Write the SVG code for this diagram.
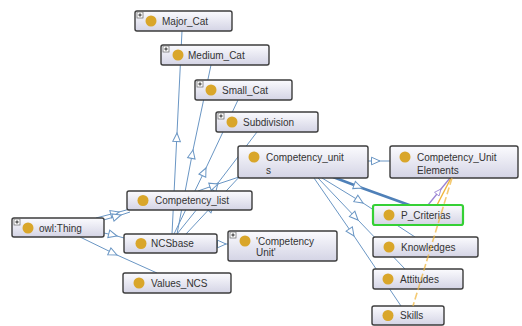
<svg xmlns="http://www.w3.org/2000/svg" width="522" height="326" viewBox="0 0 522 326">
<defs>
<linearGradient id="boxfill" x1="0" y1="0" x2="0" y2="1">
<stop offset="0" stop-color="#fbfbfe"/>
<stop offset="1" stop-color="#d4d4e5"/>
</linearGradient>
<marker id="tri" viewBox="-10 -6 12 12" refX="0" refY="0" markerWidth="12" markerHeight="12" markerUnits="userSpaceOnUse" orient="auto">
<path d="M0,0 L-8.5,-3.8 L-8.5,3.8 Z" fill="#ffffff" stroke="#6a96c4" stroke-width="1"/>
</marker>
<marker id="triP" viewBox="-10 -6 12 12" refX="0" refY="0" markerWidth="10" markerHeight="10" markerUnits="userSpaceOnUse" orient="auto">
<path d="M0,0 L-8,-3.5 L-8,3.5 Z" fill="#ffffff" stroke="#9b84d4" stroke-width="1"/>
</marker>
</defs>
<style>
.box{fill:url(#boxfill);stroke:#3c3c3c;stroke-width:1.4}
.sel{fill:url(#boxfill);stroke:#35d035;stroke-width:2.2}
.dot{fill:#d9a62a}
.lbl{font-family:"Liberation Sans",Arial,sans-serif;font-size:10px;fill:#333}
.e{fill:none;stroke:#6a96c4;stroke-width:1;marker-mid:url(#tri)}
.thick{fill:none;stroke:#4f80b8;stroke-width:2.6;marker-mid:url(#tri)}
.plusbox{fill:#fff;stroke:#666;stroke-width:0.7}
.plus{stroke:#222;stroke-width:0.9}
</style>
<rect width="522" height="326" fill="#ffffff"/>
<g id="connectors">
<polyline class="e" points="172,234 177,133 182,31"/>
<polyline class="e" points="177,234 193,150 211,65"/>
<polyline class="e" points="174,234 206,168 238,100"/>
<polyline class="e" points="177,234 218,183 257,132"/>
<polyline class="e" points="186,234 214,204 242,174"/>
<polyline class="e" points="198,191 218,184 242,176"/>
<polyline class="e" points="96,218 119,212 130,209"/>
<polyline class="e" points="100,221 121,215 130,212"/>
<polyline class="e" points="104,233 117,236 124,238"/>
<polyline class="e" points="80,237 117,255 157,273"/>
<polyline class="e" points="217,244 226,244 228,244"/>
<polyline class="e" points="368,161 380,161 390,161"/>
<polyline class="thick" points="333,177 362,188 412,206"/>
<polyline class="e" points="322,178 363,203 415,237"/>
<polyline class="e" points="318,178 358,220 405,269"/>
<polyline class="e" points="314,178 354,236 401,306"/>
<polyline fill="none" stroke="#9b84d4" stroke-width="1.3" marker-mid="url(#triP)" points="428,205 441,189 450,178"/>
<line x1="451" y1="178" x2="437" y2="205" stroke="#f0b53a" stroke-width="1.4"/>
</g>
<g id="n-major">
<rect class="box" x="135" y="11" width="97" height="20" rx="2"/>
<rect class="plusbox" x="137" y="12" width="6" height="6"/>
<path class="plus" d="M138.3,15 H141.7 M140,13.3 V16.7"/>
<circle class="dot" cx="151" cy="21" r="5.5"/>
<text class="lbl" x="162" y="24.5">Major_Cat</text>
</g>
<g id="n-medium">
<rect class="box" x="161" y="45" width="108" height="20" rx="2"/>
<rect class="plusbox" x="163" y="46" width="6" height="6"/>
<path class="plus" d="M164.3,49 H167.7 M166,47.3 V50.7"/>
<circle class="dot" cx="178" cy="55" r="5.5"/>
<text class="lbl" x="188" y="58.5">Medium_Cat</text>
</g>
<g id="n-small">
<rect class="box" x="195" y="80" width="97" height="20" rx="2"/>
<rect class="plusbox" x="197" y="81" width="6" height="6"/>
<path class="plus" d="M198.3,84 H201.7 M200,82.3 V85.7"/>
<circle class="dot" cx="211" cy="90" r="5.5"/>
<text class="lbl" x="222" y="93.5">Small_Cat</text>
</g>
<g id="n-subdivision">
<rect class="box" x="216" y="112" width="102" height="20" rx="2"/>
<rect class="plusbox" x="218" y="113" width="6" height="6"/>
<path class="plus" d="M219.3,116 H222.7 M221,114.3 V117.7"/>
<circle class="dot" cx="232" cy="122" r="5.5"/>
<text class="lbl" x="243" y="125.5">Subdivision</text>
</g>
<g id="n-competency-units">
<rect class="box" x="238" y="146" width="130" height="32" rx="2"/>
<circle class="dot" cx="254" cy="157" r="5.5"/>
<text class="lbl" x="266" y="160.5">Competency_unit</text>
<text class="lbl" x="266" y="173.5">s</text>
</g>
<g id="n-cue">
<rect class="box" x="390" y="146" width="128" height="32" rx="2"/>
<circle class="dot" cx="405" cy="157" r="5.5"/>
<text class="lbl" x="417" y="160.5">Competency_Unit</text>
<text class="lbl" x="417" y="173.5">Elements</text>
</g>
<g id="n-competency-list">
<rect class="box" x="127" y="191" width="125" height="19" rx="2"/>
<circle class="dot" cx="143" cy="200.5" r="5.5"/>
<text class="lbl" x="155" y="204">Competency_list</text>
</g>
<g id="n-owl-thing">
<rect class="box" x="12" y="218" width="92" height="19" rx="2"/>
<rect class="plusbox" x="14" y="219" width="6" height="6"/>
<path class="plus" d="M15.3,222 H18.7 M17,220.3 V223.7"/>
<circle class="dot" cx="28" cy="228" r="5.5"/>
<text class="lbl" x="39" y="231.5">owl:Thing</text>
</g>
<g id="n-ncsbase">
<rect class="box" x="124" y="234" width="93" height="19" rx="2"/>
<circle class="dot" cx="141" cy="243.5" r="5.5"/>
<text class="lbl" x="151" y="247">NCSbase</text>
</g>
<g id="n-competency-unit">
<rect class="box" x="228" y="231" width="109" height="30" rx="2"/>
<rect class="plusbox" x="230" y="232" width="6" height="6"/>
<path class="plus" d="M231.3,235 H234.7 M233,233.3 V236.7"/>
<circle class="dot" cx="245" cy="241" r="5.5"/>
<text class="lbl" x="256" y="244.5">'Competency</text>
<text class="lbl" x="256" y="256">Unit'</text>
</g>
<g id="n-values-ncs">
<rect class="box" x="123" y="273" width="108" height="20" rx="2"/>
<circle class="dot" cx="139" cy="283" r="5.5"/>
<text class="lbl" x="151" y="286.5">Values_NCS</text>
</g>
<g id="n-p-criterias">
<rect class="sel" x="373" y="205" width="90" height="20" rx="2"/>
<circle class="dot" cx="389" cy="215" r="5.5"/>
<text class="lbl" x="401" y="218.5">P_Criterias</text>
</g>
<g id="n-knowledges">
<rect class="box" x="373" y="237" width="105" height="20" rx="2"/>
<circle class="dot" cx="389" cy="247" r="5.5"/>
<text class="lbl" x="401" y="250.5">Knowledges</text>
</g>
<g id="n-attitudes">
<rect class="box" x="373" y="269" width="90" height="20" rx="2"/>
<circle class="dot" cx="388" cy="279" r="5.5"/>
<text class="lbl" x="400" y="282.5">Attitudes</text>
</g>
<g id="n-skills">
<rect class="box" x="372" y="306" width="72" height="19" rx="2"/>
<circle class="dot" cx="388" cy="315.5" r="5.5"/>
<text class="lbl" x="400" y="319">Skills</text>
</g>
<g id="connectors-over">
<line x1="452" y1="178" x2="413" y2="306" stroke="#f0b53a" stroke-width="1.6" stroke-dasharray="7 3" opacity="0.7"/>
</g>
</svg>
